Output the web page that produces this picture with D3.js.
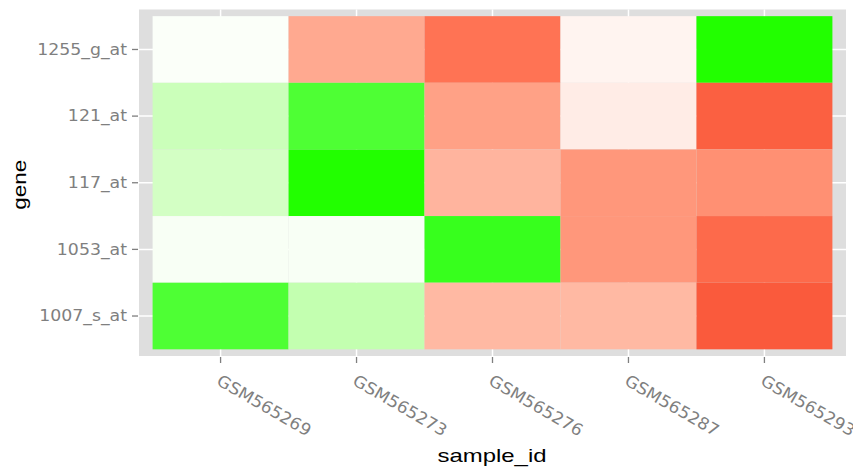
<!DOCTYPE html>
<html>
<head>
<meta charset="utf-8">
<script src="https://cdn.jsdelivr.net/npm/d3@7"></script>
<style>
  body { margin: 0; background: #ffffff; }
  svg { display: block; font-family: "Liberation Sans", Arial, sans-serif; }
</style>
</head>
<body>
<svg id="chart" width="853" height="469"></svg>
<script>
// ---- data ----
const samples = ["GSM565269", "GSM565273", "GSM565276", "GSM565287", "GSM565293"];
const genes = ["1255_g_at", "121_at", "117_at", "1053_at", "1007_s_at"]; // top to bottom
// expression score per gene (row) across samples; negative = green, positive = red
const v1255_g_at = [-0.03, 0.55, 0.87, 0.07, -1.00];
const v121_at    = [-0.35, -0.92, 0.60, 0.12, 0.97];
const v117_at    = [-0.30, -1.00, 0.48, 0.66, 0.70];
const v1053_at   = [-0.05, -0.05, -0.97, 0.66, 0.92];
const v1007_s_at = [-0.92, -0.40, 0.45, 0.45, 1.00];
const rows = [v1255_g_at, v121_at, v117_at, v1053_at, v1007_s_at];

const cells = [];
genes.forEach((g, i) => samples.forEach((s, j) => cells.push({ gene: g, sample: s, value: rows[i][j] })));

// ---- layout ----
const svg = d3.select("#chart");
const panel = { left: 139, right: 846, top: 9.5, bottom: 356 };

const x = d3.scaleBand().domain(samples).range([panel.left, panel.right]).paddingInner(0).paddingOuter(0.1);
const y = d3.scaleBand().domain(genes).range([panel.top, panel.bottom]).paddingInner(0).paddingOuter(0.1);

const color = d3.scaleLinear()
  .domain([-1, 0, 1])
  .range(["#22ff00", "#ffffff", "#fa5a3c"])
  .interpolate(d3.interpolateLab);

// panel background
svg.append("rect")
  .attr("x", panel.left).attr("y", panel.top)
  .attr("width", panel.right - panel.left).attr("height", panel.bottom - panel.top)
  .attr("fill", "#dedede");

// grid lines
const grid = svg.append("g").attr("stroke", "#ffffff").attr("stroke-width", 1.5);
samples.forEach(s => {
  const cx = x(s) + x.bandwidth() / 2;
  grid.append("line").attr("x1", cx).attr("x2", cx).attr("y1", panel.top).attr("y2", panel.bottom);
});
genes.forEach(g => {
  const cy = y(g) + y.bandwidth() / 2;
  grid.append("line").attr("y1", cy).attr("y2", cy).attr("x1", panel.left).attr("x2", panel.right);
});

// tiles
svg.append("g").selectAll("rect").data(cells).join("rect")
  .attr("x", d => x(d.sample))
  .attr("y", d => y(d.gene))
  .attr("width", x.bandwidth())
  .attr("height", y.bandwidth())
  .attr("fill", d => color(d.value));

// axes
const tickFont = '"DejaVu Sans", sans-serif';
const yAxis = d3.axisLeft(y).tickSize(6).tickPadding(5);
const gy = svg.append("g").attr("transform", `translate(${panel.left - 1},0)`).call(yAxis);
gy.select(".domain").remove();
gy.selectAll(".tick line").attr("stroke", "#7f7f7f").attr("stroke-width", 1.3);
gy.selectAll(".tick text").attr("fill", "#7f7f7f")
  .style("font-family", tickFont).style("font-size", "16.5px")
  .each(function () {
    const len = this.getComputedTextLength();
    d3.select(this).attr("textLength", len * 1.05).attr("lengthAdjust", "spacingAndGlyphs");
  });

const xAxis = d3.axisBottom(x).tickSize(6).tickPadding(4);
const gx = svg.append("g").attr("transform", `translate(0,${panel.bottom + 1})`).call(xAxis);
gx.select(".domain").remove();
gx.selectAll(".tick line").attr("stroke", "#7f7f7f").attr("stroke-width", 1.3);
gx.selectAll(".tick text")
  .attr("fill", "#7f7f7f")
  .style("font-family", tickFont).style("font-size", "16.5px")
  .attr("text-anchor", "start")
  .attr("x", 0).attr("y", 0).attr("dy", "0")
  .attr("transform", "translate(-5,27) rotate(30)")
  .each(function () {
    const len = this.getComputedTextLength();
    d3.select(this).attr("textLength", len * 1.05).attr("lengthAdjust", "spacingAndGlyphs");
  });

// axis titles
svg.append("text")
  .attr("x", 492).attr("y", 462)
  .attr("text-anchor", "middle")
  .attr("textLength", 109).attr("lengthAdjust", "spacingAndGlyphs")
  .style("font-size", "19px").attr("fill", "#000")
  .text("sample_id");

svg.append("text")
  .attr("transform", `translate(26,${(panel.top + panel.bottom) / 2 + 2}) rotate(-90)`)
  .attr("text-anchor", "middle")
  .attr("textLength", 50).attr("lengthAdjust", "spacingAndGlyphs")
  .style("font-size", "19px").attr("fill", "#000")
  .text("gene");
</script>
</body>
</html>
